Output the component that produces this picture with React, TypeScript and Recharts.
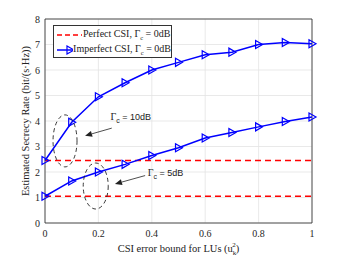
import { LineChart, Line, XAxis, YAxis, CartesianGrid, ReferenceArea, ReferenceDot, ReferenceLine } from "recharts";

const errBound = [0, 0.1, 0.2, 0.3, 0.4, 0.5, 0.6, 0.7, 0.8, 0.9, 1];
const imperfect10 = [2.45, 3.95, 4.95, 5.5, 6.0, 6.3, 6.6, 6.7, 7.0, 7.08, 7.03];
const imperfect5 = [1.05, 1.65, 2.0, 2.3, 2.65, 2.95, 3.33, 3.55, 3.77, 3.98, 4.16];
const perfect10 = [2.45, 2.45, 2.45, 2.45, 2.45, 2.45, 2.45, 2.45, 2.45, 2.45, 2.45];
const perfect5 = [1.05, 1.05, 1.05, 1.05, 1.05, 1.05, 1.05, 1.05, 1.05, 1.05, 1.05];
const xTicks = [0, 0.2, 0.4, 0.6, 0.8, 1];
const yTicks = [0, 1, 2, 3, 4, 5, 6, 7, 8];

const data = errBound.map((x, i) => ({
  x,
  i10: imperfect10[i],
  i5: imperfect5[i],
  p10: perfect10[i],
  p5: perfect5[i],
}));

const SERIF = "'Liberation Serif', 'Times New Roman', serif";
const SANS = "'Liberation Sans', Arial, sans-serif";
const BLUE = "#0000ff";
const RED = "#ff0000";

function Tri(props: any) {
  const { cx, cy } = props;
  if (cx == null || cy == null) return null;
  return (
    <polygon
      points={`${cx - 3},${cy - 4} ${cx - 3},${cy + 4} ${cx + 4},${cy}`}
      fill="none" stroke={BLUE} strokeWidth={1.2}
    />
  );
}

function Ellipse(rx: number, ry: number) {
  return (props: any) => (
    <ellipse cx={props.cx} cy={props.cy} rx={rx} ry={ry}
      fill="none" stroke="#222" strokeWidth={0.9} strokeDasharray="4 3" />
  );
}

function Arrow(props: any) {
  const { x1, y1, x2, y2 } = props;
  const ang = Math.atan2(y2 - y1, x2 - x1);
  const L = 7, W = 3;
  const bx = x2 - L * Math.cos(ang), by = y2 - L * Math.sin(ang);
  const px = -Math.sin(ang) * W, py = Math.cos(ang) * W;
  return (
    <g>
      <line x1={x1} y1={y1} x2={bx} y2={by} stroke="#222" strokeWidth={0.8} />
      <polygon points={`${x2},${y2} ${bx + px},${by + py} ${bx - px},${by - py}`} fill="#222" />
    </g>
  );
}

function GammaText(txt: string) {
  return (props: any) => (
    <text x={props.cx} y={props.cy} fontFamily={SANS} fontSize={9} fill="#222" dominantBaseline="middle">
      <tspan fontFamily={SERIF} fontSize={10}>Γ</tspan>
      <tspan fontSize={7} dy={3}>c</tspan>
      <tspan dy={-3}>{` = ${txt}`}</tspan>
    </text>
  );
}

function LegendBox() {
  const row = { display: "flex", alignItems: "center", height: 15, whiteSpace: "nowrap" as const };
  return (
    <div style={{
      position: "absolute", left: 53, top: 25, width: 119, height: 33,
      border: "1px solid #333", background: "#fff",
      fontFamily: SERIF, fontSize: 10, color: "#222", boxSizing: "border-box", padding: "1px 0 0 2px",
    }}>
      <div style={row}>
        <svg width={27} height={10}>
          <line x1={1} y1={5} x2={26} y2={5} stroke={RED} strokeWidth={1.5} strokeDasharray="5 3" />
        </svg>
        <span>Perfect CSI, Γ<sub style={{ fontSize: 6.5 }}>c</sub> = 0dB</span>
      </div>
      <div style={row}>
        <svg width={27} height={10}>
          <line x1={1} y1={5} x2={26} y2={5} stroke={BLUE} strokeWidth={1.5} />
          <polygon points="11,1 11,9 18,5" fill="none" stroke={BLUE} strokeWidth={1.2} />
        </svg>
        <span>Imperfect CSI, Γ<sub style={{ fontSize: 6.5 }}>c</sub> = 0dB</span>
      </div>
    </div>
  );
}

function XLabel(props: any) {
  const { viewBox } = props;
  const cx = viewBox.x + viewBox.width / 2;
  return (
    <text x={cx} y={viewBox.y + 29} textAnchor="middle" fontFamily={SERIF} fontSize={10.5} fill="#222">
      CSI error bound for LUs (u<tspan fontSize={7} dy={3}>k</tspan><tspan fontSize={7} dx={-4} dy={-8}>2</tspan><tspan dy={5}>)</tspan>
    </text>
  );
}

function YLabel(props: any) {
  const { viewBox } = props;
  const cy = viewBox.y + viewBox.height / 2;
  return (
    <text x={27} y={cy} transform={`rotate(-90, 27, ${cy})`} textAnchor="middle" dominantBaseline="middle"
      fontFamily={SERIF} fontSize={10.5} fill="#222">
      Estimated Secrecy Rate (bit/(s·Hz))
    </text>
  );
}

export default function App() {
  const tick = { fontFamily: SERIF, fontSize: 10, fill: "#262626" };
  return (
    <div style={{ position: "fixed", left: 0, top: 0, width: 346, height: 260, background: "#fff" }}>
      <LineChart width={346} height={260} data={data} margin={{ top: 19, right: 34, left: 0, bottom: 0 }}>
        <CartesianGrid stroke="#e3e3e3" strokeWidth={0.8} />
        <XAxis dataKey="x" type="number" domain={[0, 1]} ticks={xTicks} height={37}
          tick={tick} tickLine={false} axisLine={false} tickSize={3} tickMargin={4} label={<XLabel />} />
        <YAxis type="number" domain={[0, 8]} ticks={yTicks} width={45}
          tick={tick} tickLine={false} axisLine={false} tickSize={3} tickMargin={2} label={<YLabel />} />
        <ReferenceArea x1={0} x2={1} y1={0} y2={8} fill="none" stroke="#262626" strokeWidth={0.8} />
        <Line dataKey="p10" name="Perfect CSI" stroke={RED} strokeWidth={1.6} strokeDasharray="6 4" dot={false} isAnimationActive={false} />
        <Line dataKey="p5" name="Perfect CSI 5" stroke={RED} strokeWidth={1.6} strokeDasharray="6 4" dot={false} isAnimationActive={false} />
        <Line dataKey="i10" name="Imperfect CSI" stroke={BLUE} strokeWidth={1.5} dot={<Tri />} isAnimationActive={false} />
        <Line dataKey="i5" name="Imperfect CSI 5" stroke={BLUE} strokeWidth={1.5} dot={<Tri />} isAnimationActive={false} />
        <ReferenceDot x={0.075} y={3.22} shape={Ellipse(12, 26)} ifOverflow="visible" />
        <ReferenceDot x={0.19} y={1.45} shape={Ellipse(12.5, 23)} ifOverflow="visible" />
        <ReferenceLine segment={[{ x: 0.25, y: 3.72 }, { x: 0.15, y: 3.42 }]} shape={Arrow} ifOverflow="visible" />
        <ReferenceLine segment={[{ x: 0.375, y: 1.86 }, { x: 0.262, y: 1.53 }]} shape={Arrow} ifOverflow="visible" />
        <ReferenceDot x={0.245} y={4.1} shape={GammaText("10dB")} ifOverflow="visible" />
        <ReferenceDot x={0.385} y={1.93} shape={GammaText("5dB")} ifOverflow="visible" />
      </LineChart>
      <LegendBox />
    </div>
  );
}
